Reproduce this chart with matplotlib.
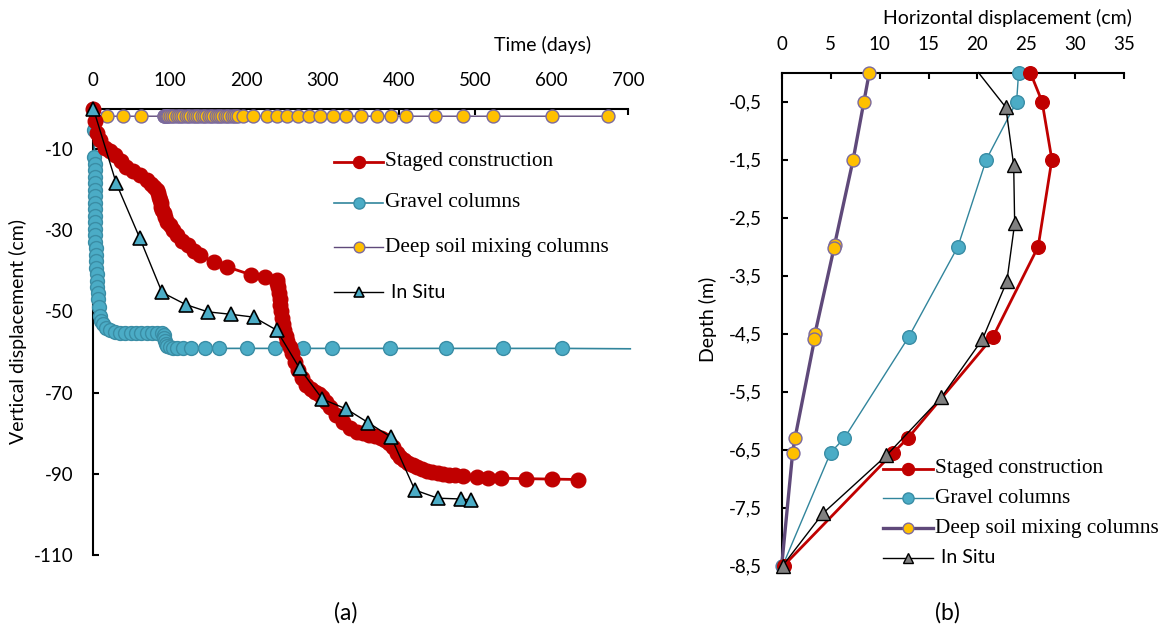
import matplotlib
matplotlib.use("Agg")
import matplotlib.pyplot as plt
from matplotlib.ticker import FixedLocator, FuncFormatter
from matplotlib.lines import Line2D

# ---------------- data: panel (a) ----------------
staged_days = [0, 2, 5, 9, 15, 22, 28, 36, 43, 52, 61, 70, 76, 80, 83, 85, 86, 87, 88, 89, 90,
               92, 94, 97, 100, 104, 109, 116, 124, 132, 140, 158, 175, 207, 225, 240, 241, 242,
               243, 244, 245, 246, 247, 248, 250, 252, 254, 257, 260, 264, 268, 273, 279, 285,
               290, 295, 300, 305, 310, 318, 327, 336, 345, 353, 361, 369, 376, 382, 387, 392,
               397, 402, 407, 412, 418, 424, 430, 437, 444, 451, 458, 466, 474, 484, 502, 517,
               534, 567, 601, 635]
staged_disp = [0, -3, -6, -7.8, -9.8, -10.5, -11.5, -13, -14.3, -15.5, -16.4, -17.5, -18.5, -19.3,
               -20, -20.9, -21.7, -22.5, -23.3, -24.2, -25, -25.8, -26.8, -27.9, -28.8, -29.9,
               -31.2, -32.6, -33.6, -35, -36.1, -37.8, -39, -41, -41.4, -42.2, -43, -44, -45.5,
               -47, -48.5, -50, -51.5, -53, -54.5, -56, -57.3, -58.8, -60.3, -62.5, -64.5, -66.5,
               -68, -69.2, -69.8, -70.4, -71, -72.3, -73.6, -75.6, -77.3, -78.8, -79.6, -80,
               -80.4, -80.8, -81.1, -81.6, -82.4, -83.5, -84.8, -85.8, -86.6, -87.3, -87.9,
               -88.4, -88.8, -89.2, -89.5, -89.8, -90, -90.2, -90.4, -90.6, -90.8, -91,
               -91.1, -91.2, -91.3, -91.4]

gravel_days = [0, 1.3, 1.5, 1.6, 1.7, 1.8, 1.9, 2.0, 2.1, 2.2, 2.3, 2.4, 2.5, 2.6, 2.7, 2.8, 3.0,
               3.2, 3.5, 3.8, 4.2, 4.6, 5.0, 5.6, 6.3, 7.2, 8.7, 10.5, 13, 17, 22, 28, 35, 42,
               49, 56, 63, 70, 77, 84, 90, 92, 93, 94, 95, 97, 100, 104, 110, 117, 128, 146,
               165, 201, 238, 275, 312, 388, 462, 537, 613, 703]
gravel_disp = [0, -5.3, -12, -13.6, -15.2, -16.8, -18.4, -20, -21.6, -23.2, -24.8, -26.4, -28,
               -29.6, -31.2, -32.8, -34.4, -36, -37.6, -39.2, -40.8, -42.4, -44, -45.5, -47,
               -48.8, -51, -52.3, -53.2, -54, -54.6, -55, -55.3, -55.4, -55.4, -55.4, -55.4,
               -55.4, -55.4, -55.4, -55.3, -55.8, -56.6, -57.4, -58, -58.5, -58.8, -59, -59.1,
               -59.1, -59.1, -59.1, -59.1, -59.1, -59.1, -59.1, -59.1, -59.1, -59.1, -59.1,
               -59.1, -59.2]

dsm_days = [0, 17.5, 39, 63, 92, 93, 94, 95, 96, 97, 98, 100, 103, 106, 109, 112, 115, 118, 121,
            124, 127, 130, 133, 136, 139, 142, 145, 148, 151, 154, 157, 160, 163, 166, 169,
            172, 175, 178, 181, 184, 187, 190, 196, 209, 227, 240, 253, 268, 283, 297, 314,
            331, 351, 371, 390, 410, 447, 484, 523, 600, 674]
dsm_disp = [0] + [-1.9] * 60

insitu_days = [0, 30, 61, 90, 121, 150, 180, 210, 240, 270, 300, 331, 360, 390, 421, 451, 481, 494]
insitu_disp = [0, -18.4, -32, -45.3, -48.3, -50.1, -50.7, -51.4, -54.6, -64, -71.6, -74, -77.4,
               -81, -94, -96, -96.2, -96.4]

# ---------------- data: panel (b) ----------------
staged_h = [25.4, 26.6, 27.6, 26.2, 21.6, 12.9, 11.4, 0.2]
staged_depth = [0, -0.5, -1.5, -3.0, -4.55, -6.3, -6.55, -8.5]
gravel_h = [24.2, 24.0, 20.9, 18.0, 13.0, 6.4, 5.0, 0.1]
gravel_depth = [0, -0.5, -1.5, -3.0, -4.55, -6.3, -6.55, -8.5]
dsm_h = [8.95, 8.4, 7.3, 5.4, 5.35, 3.4, 3.35, 1.36, 1.12, 0.0]
dsm_depth = [0, -0.5, -1.5, -2.97, -3.02, -4.5, -4.6, -6.3, -6.55, -8.5]
insitu_h = [20.1, 22.9, 23.7, 23.8, 23.0, 20.5, 16.3, 10.7, 4.2, 0.1]
insitu_depth = [0, -0.6, -1.6, -2.6, -3.6, -4.6, -5.6, -6.6, -7.6, -8.5]

labels = ["Staged construction", "Gravel columns", "Deep soil mixing columns", "In Situ"]
xticks_a = [0, 100, 200, 300, 400, 500, 600, 700]
yticks_a = [-10, -30, -50, -70, -90, -110]
xticks_b = [0, 5, 10, 15, 20, 25, 30, 35]
yticks_b = [-0.5, -1.5, -2.5, -3.5, -4.5, -5.5, -6.5, -7.5, -8.5]

# ---------------- style ----------------
SANS = "Lato"
SERIF = "Liberation Serif"
plt.rcParams["font.family"] = SANS
plt.rcParams["axes.unicode_minus"] = False
RED = "#C00000"
TEAL = "#4BACC6"
TEAL_EDGE = "#3A8DA5"
TEAL_LINE = "#31859C"
YEL = "#FFC000"
PURP = "#5F497A"
PURP_EDGE = "#7B6A9E"
GRAY = "#808080"

W, H = 1165, 628
fig = plt.figure(figsize=(W / 100, H / 100), dpi=100)
axA = fig.add_axes([93.3 / W, 1 - 555 / H, (628 - 93.3) / W, (555 - 108.5) / H])
axB = fig.add_axes([781.7 / W, 1 - 565.7 / H, (1124.3 - 781.7) / W, (565.7 - 72.6) / H])

def style_axis(ax):
    ax.xaxis.tick_top()
    ax.spines["bottom"].set_visible(False)
    ax.spines["right"].set_visible(False)
    for s in ("top", "left"):
        ax.spines[s].set_linewidth(1.5)
        ax.spines[s].set_zorder(1)
    ax.tick_params(axis="both", direction="in", length=4, width=1.5, labelsize=13.5, pad=14)
    ax.set_facecolor("none")

# series styles (shared by plots and legend handles)
st_red = dict(color=RED, lw=2.0, marker="o", mfc=RED, mec=RED)
st_teal = dict(color=TEAL_LINE, lw=1.2, marker="o", mfc=TEAL, mec=TEAL_EDGE, mew=1.0)
st_dsmA = dict(color=PURP, lw=1.0, marker="o", mfc=YEL, mec=PURP_EDGE, mew=1.0)
st_dsmB = dict(color=PURP, lw=2.4, marker="o", mfc=YEL, mec=PURP_EDGE, mew=1.0)
st_insA = dict(color="black", lw=1.0, marker="^", mfc=TEAL, mec="black", mew=1.2)
st_insB = dict(color="black", lw=1.0, marker="^", mfc=GRAY, mec="black", mew=1.0)

# ---- panel (a)
style_axis(axA)
axA.set_xlim(0, 700)
axA.set_ylim(-110, 0)
axA.xaxis.set_major_locator(FixedLocator(xticks_a))
axA.yaxis.set_major_locator(FixedLocator(yticks_a))

axA.plot(dsm_days, dsm_disp, ms=9.3, clip_on=False, zorder=3, **st_dsmA)
axA.plot(gravel_days, gravel_disp, ms=10, markevery=list(range(len(gravel_days) - 1)),
         clip_on=False, zorder=3, **st_teal)
axA.plot(staged_days, staged_disp, ms=10.5, clip_on=False, zorder=4, **st_red)
axA.plot(insitu_days, insitu_disp, ms=9.5, clip_on=False, zorder=5, **st_insA)

axA.set_ylabel("Vertical displacement (cm)", fontsize=14)
axA.yaxis.set_label_coords(-0.124, 0.5)
fig.text(543 / W, 1 - 45 / H, "Time (days)", ha="center", va="center", fontsize=14)
fig.text(346 / W, 1 - 613 / H, "(a)", ha="center", va="center", fontsize=16.5)

# ---- panel (b)
style_axis(axB)
axB.set_xlim(0, 35)
axB.set_ylim(-8.5, 0)
axB.xaxis.set_major_locator(FixedLocator(xticks_b))
axB.yaxis.set_major_locator(FixedLocator(yticks_b))
axB.yaxis.set_major_formatter(FuncFormatter(lambda v, p: ("%.1f" % v).replace(".", ",")))

axB.plot(dsm_h, dsm_depth, ms=9.3, clip_on=False, zorder=3, **st_dsmB)
st_teal_b = dict(st_teal, lw=1.0)
axB.plot(gravel_h, gravel_depth, ms=9.8, clip_on=False, zorder=3, **st_teal_b)
axB.plot(staged_h, staged_depth, ms=9.8, clip_on=False, zorder=4, **st_red)
axB.plot(insitu_h, insitu_depth, ms=9.5, markevery=list(range(1, len(insitu_h))),
         clip_on=False, zorder=5, **st_insB)

axB.set_ylabel("Depth (m)", fontsize=14)
axB.yaxis.set_label_coords(-0.19, 0.5)
fig.text(1007 / W, 1 - 18 / H, "Horizontal displacement (cm)", ha="center", va="center",
         fontsize=14)
fig.text(947 / W, 1 - 613 / H, "(b)", ha="center", va="center", fontsize=16.5)

# ---- legends (drawn as figure artists at the reference positions)
def legend(x0, x1, rows, styles, sizes):
    for y, lab, st, ms in zip(rows, labels, styles, sizes):
        fy = 1 - y / H
        line_st = {k: v for k, v in st.items() if k in ("color", "lw")}
        mark_st = {k: v for k, v in st.items() if k not in ("color", "lw")}
        fig.add_artist(Line2D([x0 / W, x1 / W], [fy, fy], transform=fig.transFigure,
                              **line_st))
        fig.add_artist(Line2D([(x0 + x1) / 2 / W], [fy], transform=fig.transFigure,
                              linestyle="none", ms=ms, **mark_st))
        if lab == "In Situ":
            fig.text((x1 + 8) / W, fy, lab, ha="left", va="center", fontsize=14, family=SANS)
        else:
            fig.text((x1 + 1.5) / W, fy, lab, ha="left", va="center", fontsize=15.3,
                     family=SERIF)

legend(334, 383.3, [161.7, 202.7, 247.3, 292.3], [st_red, st_teal, st_dsmA, st_insA],
       [8.6, 8.0, 7.7, 7.2])
legend(882.7, 933.3, [469, 498.3, 528.3, 557.7], [st_red, st_teal_b, st_dsmB, st_insB],
       [8.6, 8.0, 7.7, 7.2])

fig.savefig("out.png", dpi=100)
